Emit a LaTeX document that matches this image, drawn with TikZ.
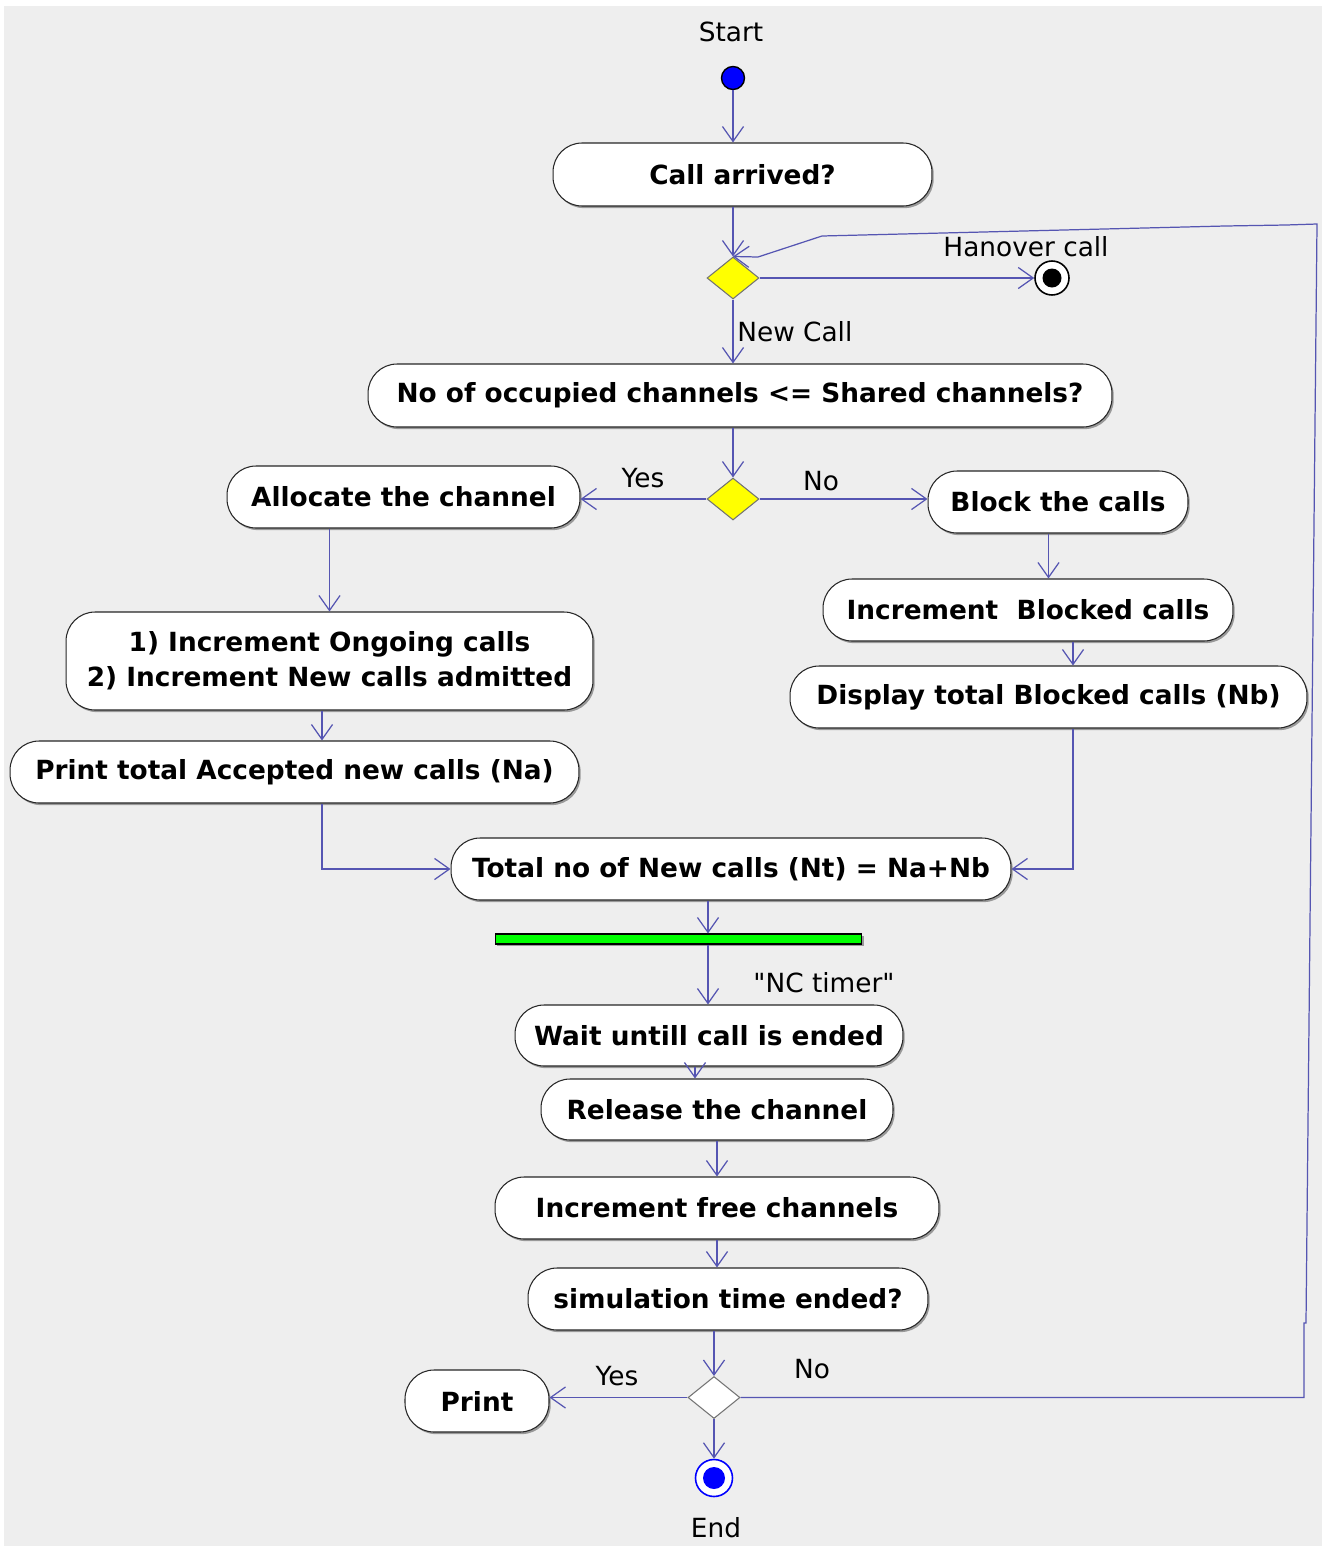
\documentclass[tikz,border=0pt]{standalone}
\usepackage{fontspec}
\setmainfont{DejaVu Sans}
% same family without TeX ligature mapping, so " stays a straight quote
\newfontfamily\straightfont{DejaVu Sans}
\usetikzlibrary{arrows.meta,shapes.geometric,shadows}
\definecolor{canvas}{HTML}{EEEEEE}
\definecolor{flow}{RGB}{85,85,178}
\definecolor{choice}{HTML}{FFFF00}
\definecolor{forkbar}{HTML}{00FF00}
\definecolor{dotblue}{HTML}{0000FF}
\begin{document}
\begin{tikzpicture}[x=0.02cm,y=-0.02cm,
  lbl/.style={font=\fontsize{15}{18}\selectfont, inner sep=0pt},
  act/.style={draw=black!85, fill=white, rounded corners=0.58cm, inner sep=0pt,
    line width=0.6pt, align=center, font=\fontsize{15}{20}\selectfont\bfseries,
    drop shadow={shadow xshift=1pt, shadow yshift=-1.2pt, fill=black!40, opacity=1}},
  decision/.style={diamond, draw=black!55, line width=0.6pt, inner sep=0pt,
    minimum width=1.04cm, minimum height=0.84cm},
  flowline/.style={draw=flow, line width=0.7pt, -{Straight Barb[length=8.5pt,width=12pt]}}
]
% canvas
\useasboundingbox (0,0) rectangle (1324,1549);
\fill[white] (0,0) rectangle (1324,1549);
\fill[canvas] (4,6) rectangle (1322,1546);

% x positions of vertical connectors
\coordinate (xa) at (322,0);
\coordinate (xb) at (1073,0);
\coordinate (xc) at (708,0);
\coordinate (xd) at (695,0);

% start
\node[lbl] (startlbl) at (731,32) {Start};
\node[circle, draw=black, fill=dotblue, line width=0.8pt, minimum size=0.46cm, inner sep=0pt] (start) at (733,78) {};

% activities
\node[act, minimum width=7.58cm, minimum height=1.26cm] (ca) at (742.5,174.5) {Call arrived?};
\node[decision, fill=choice] (d1) at (733,278) {};
\node[act, minimum width=14.88cm, minimum height=1.26cm] (occ) at (740,395.5) {No of occupied channels <= Shared channels?};
\node[decision, fill=choice] (d2) at (733,499) {};
\node[act, minimum width=7.06cm, minimum height=1.24cm] (alloc) at (403.5,497) {Allocate the channel};
\node[act, minimum width=5.2cm, minimum height=1.24cm] (block) at (1058,502) {Block the calls};
\node[act, minimum width=10.54cm, minimum height=1.96cm] (inc) at (329.5,661) {1) Increment Ongoing calls\\2) Increment New calls admitted};
\node[act, minimum width=11.38cm, minimum height=1.24cm] (printa) at (294.5,772) {Print total Accepted new calls (Na)};
\node[act, minimum width=8.2cm, minimum height=1.24cm] (incb) at (1028,610) {Increment\ \ Blocked calls};
\node[act, minimum width=10.34cm, minimum height=1.24cm] (disp) at (1048.5,697) {Display total Blocked calls (Nb)};
\node[act, minimum width=11.2cm, minimum height=1.24cm] (total) at (731,869) {Total no of New calls (Nt) = Na+Nb};
\node[rectangle, draw=black, fill=forkbar, line width=0.6pt, inner sep=0pt,
  minimum width=7.34cm, minimum height=0.2cm,
  drop shadow={shadow xshift=1pt, shadow yshift=-1.2pt, fill=black!40, opacity=1}] (bar) at (678.5,939) {};
\node[act, minimum width=7.76cm, minimum height=1.22cm] (wait) at (709,1035.5) {Wait untill call is ended};
\node[act, minimum width=7.04cm, minimum height=1.22cm] (rel) at (717,1109.5) {Release the channel};
\node[act, minimum width=8.88cm, minimum height=1.24cm] (incf) at (717,1208) {Increment free channels};
\node[act, minimum width=8.0cm, minimum height=1.24cm] (sim) at (728,1299) {simulation time ended?};
\node[decision, fill=white] (d3) at (714,1397.5) {};
\node[act, minimum width=2.88cm, minimum height=1.24cm] (print) at (477,1401) {Print};

% final nodes
\node[circle, draw=black, fill=white, line width=0.9pt, minimum size=0.68cm, inner sep=0pt] (fin) at (1052,278) {};
\fill[black] (fin.center) circle (0.19cm);
\node[circle, draw=dotblue, fill=white, line width=0.9pt, minimum size=0.74cm, inner sep=0pt] (endn) at (714,1478) {};
\fill[dotblue] (endn.center) circle (0.22cm);
\node[lbl] (endlbl) at (716,1528) {End};

% guard labels
\node[lbl] (hand) at (1026,247) {Hanover call};
\node[lbl, anchor=west] (newc) at (737,332) {New Call};
\node[lbl] (yes1) at (643,478) {Yes};
\node[lbl] (no1) at (821,481) {No};
\node[lbl] (nct) at (824,983) {\straightfont "NC timer"};
\node[lbl] (yes2) at (617,1376) {Yes};
\node[lbl] (no2) at (812,1369) {No};

% connectors
\draw[flowline] (start) -- (start |- ca.north);
\draw[flowline] (ca.south -| d1) -- (d1.north);
\draw[flowline] (d1.east) -- (fin.west);
\draw[flowline] (d1.south) -- (d1 |- occ.north);
\draw[flowline] (occ.south -| d2) -- (d2.north);
\draw[flowline] (d2.west) -- (d2.west -| alloc.east);
\draw[flowline] (d2.east) -- (d2.east -| block.west);
\draw[flowline] (alloc.south -| inc.north) -- (inc.north);
\draw[flowline] (inc.south -| xa) -- (printa.north -| xa);
\draw[flowline] (printa.south -| xa) |- (total.west);
\draw[flowline] (block.south -| disp.north) -- (incb.north -| disp.north);
\draw[flowline] (incb.south -| xb) -- (disp.north -| xb);
\draw[flowline] (disp.south -| xb) |- (total.east);
\draw[flowline] (total.south -| xc) -- (bar.north -| xc);
\draw[flowline] (bar.south -| xc) -- (wait.north -| xc);
\draw[flowline] (wait.south -| xd) -- (rel.north -| xd);
\draw[flowline] (rel.south) -- (incf.north);
\draw[flowline] (incf.south) -- (sim.north -| incf.south);
\draw[flowline] (sim.south -| d3) -- (d3.north);
\draw[flowline] (d3.west) -- (d3.west -| print.east);
\draw[flowline] (d3.south) -- (endn.north);
\draw[flowline] (d3.east) -- (1304,1397.5) -- (1304,1323) -- (1306,1323) -- (1317,224)
  -- (1286,225) -- (1225,226) -- (822,236) -- (758,257) -- (d1.north);
\end{tikzpicture}
\end{document}
